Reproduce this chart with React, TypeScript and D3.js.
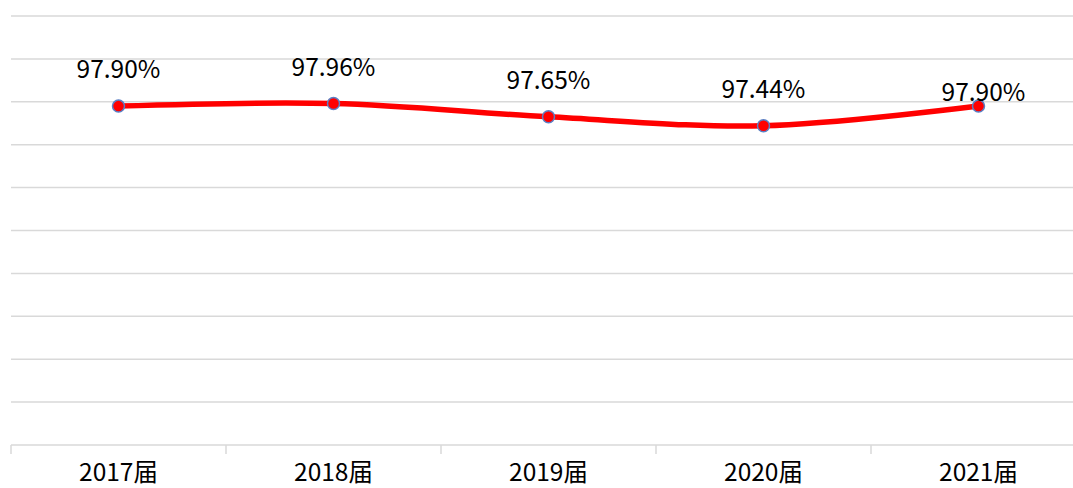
import React from "react";
import * as d3 from "d3";

const categories = ["2017届", "2018届", "2019届", "2020届", "2021届"];
const values = [97.9, 97.96, 97.65, 97.44, 97.9];
const labels = ["97.90%", "97.96%", "97.65%", "97.44%", "97.90%"];
const yTicks = [90, 91, 92, 93, 94, 95, 96, 97, 98, 99, 100];

const W = 1073;
const H = 488;
const left = 11;
const right = 1086;
const top = 16;
const bottom = 445;
const font = "'Noto Sans CJK SC', 'Noto Sans', sans-serif";

export default function App() {
  const x = d3.scaleBand<string>().domain(categories).range([left, right]);
  const y = d3.scaleLinear().domain([90, 100]).range([bottom, top]);
  const cx = (c: string) => (x(c) as number) + x.bandwidth() / 2;
  const pts: [number, number][] = categories.map((c, i) => [cx(c), y(values[i])]);
  const line = d3.line().curve(d3.curveCatmullRom.alpha(0.5))(pts) || "";
  const bounds = [left, ...categories.slice(1).map((c) => x(c) as number)];
  return (
    <svg width={W} height={H} style={{ position: "absolute", left: 0, top: 0, background: "#fff" }}>
      {yTicks.slice(1).map((t) => (
        <line key={t} x1={left} x2={right} y1={y(t)} y2={y(t)} stroke="#d9d9d9" strokeWidth={1.5} />
      ))}
      <line x1={left} x2={right} y1={bottom} y2={bottom} stroke="#d9d9d9" strokeWidth={1.5} />
      {bounds.map((b, i) => (
        <line key={i} x1={b} x2={b} y1={bottom} y2={bottom + 9} stroke="#d9d9d9" strokeWidth={1.5} />
      ))}
      {categories.map((c) => (
        <text key={c} x={cx(c)} y={481} textAnchor="middle" fontFamily={font} fontSize={24.5} fill="#000">
          {c}
        </text>
      ))}
      <path d={line} fill="none" stroke="#ff0000" strokeWidth={5.5} strokeLinecap="round" />
      {pts.map(([px, py], i) => (
        <circle key={i} cx={px} cy={py} r={6} fill="#ff0000" stroke="#5b7fc4" strokeWidth={1.5} />
      ))}
      {pts.map(([px, py], i) => {
        const last = i === pts.length - 1;
        return (
          <text key={i} x={px + (last ? 5 : 0)} y={py - (last ? 5 : 28)} textAnchor="middle" fontFamily={font} fontSize={24.5} fill="#000">
            {labels[i]}
          </text>
        );
      })}
    </svg>
  );
}
